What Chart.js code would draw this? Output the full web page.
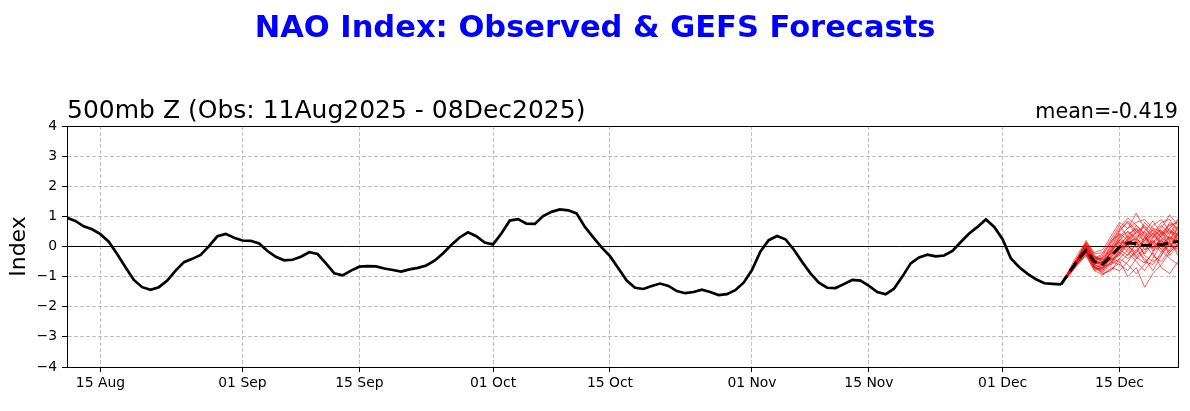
<!DOCTYPE html>
<html>
<head>
<meta charset="utf-8">
<script src="https://cdn.jsdelivr.net/npm/chart.js@4.4.1/dist/chart.umd.min.js"></script>
<style>
  html, body { margin: 0; padding: 0; background: #fff; }
  #wrap { width: 1190px; height: 411px; }
</style>
</head>
<body>
<div id="wrap"><canvas id="naoChart" width="1190" height="411"></canvas></div>
<script>
// x = days since 11 Aug 2025
var tickDays = [4, 21, 35, 51, 65, 82, 96, 112, 126];
var tickLabels = ["15 Aug", "01 Sep", "15 Sep", "01 Oct", "15 Oct", "01 Nov", "15 Nov", "01 Dec", "15 Dec"];
var lastDay = 133;      // 22 Dec
var fcstStart = 119;    // 08 Dec

// observed NAO, 11 Aug .. 08 Dec (daily)
var observed = [
  0.95, 0.85, 0.67, 0.57, 0.41, 0.16, -0.25, -0.69, -1.11, -1.35,
  -1.44, -1.35, -1.13, -0.80, -0.52, -0.41, -0.28, 0.01, 0.34, 0.42,
  0.29, 0.20, 0.19, 0.10, -0.15, -0.34, -0.46, -0.44, -0.34, -0.19,
  -0.25, -0.56, -0.89, -0.96, -0.80, -0.67, -0.65, -0.66, -0.73, -0.78,
  -0.83, -0.76, -0.71, -0.63, -0.47, -0.23, 0.05, 0.30, 0.47, 0.34,
  0.13, 0.07, 0.43, 0.86, 0.91, 0.76, 0.75, 1.01, 1.15, 1.23,
  1.20, 1.10, 0.65, 0.30, -0.03, -0.32, -0.72, -1.13, -1.37, -1.41,
  -1.31, -1.23, -1.31, -1.48, -1.55, -1.51, -1.43, -1.51, -1.61, -1.58,
  -1.45, -1.20, -0.78, -0.17, 0.21, 0.35, 0.24, -0.10, -0.51, -0.89,
  -1.20, -1.37, -1.38, -1.25, -1.11, -1.13, -1.31, -1.51, -1.59, -1.40,
  -1.00, -0.56, -0.36, -0.27, -0.33, -0.30, -0.15, 0.15, 0.43, 0.65,
  0.90, 0.65, 0.24, -0.40, -0.69, -0.91, -1.09, -1.22, -1.24, -1.26
];

// GEFS ensemble mean, 08 Dec .. 22 Dec
var ensMean = [-1.26, -0.85, -0.45, -0.12, -0.50, -0.58, -0.32, -0.02, 0.12, 0.10, 0.03, 0.05, 0.06, 0.12, 0.17];

// GEFS members, 08 Dec .. 22 Dec
var members = [
  [-1.26, -0.80, -0.35, 0.20, -0.30, -0.55, 0.10, 0.55, 0.80, 0.40, 0.20, 0.55, 0.30, 0.80, 0.60],
  [-1.26, -0.90, -0.55, -0.10, -0.70, -0.85, -0.60, -0.20, 0.30, 0.70, 0.40, -0.10, 0.20, 0.00, 0.40],
  [-1.26, -0.85, -0.40, 0.05, -0.40, -0.30, 0.20, 0.40, -0.10, -0.40, -0.20, 0.30, 0.60, 1.05, 0.70],
  [-1.26, -0.95, -0.60, -0.30, -0.80, -0.95, -0.70, -0.80, -0.50, -0.10, -0.40, -0.80, -0.30, 0.10, -0.20],
  [-1.26, -0.75, -0.25, 0.15, -0.20, -0.10, 0.35, 0.80, 0.60, 1.10, 0.60, 0.30, 0.70, 0.40, 0.90],
  [-1.26, -0.88, -0.50, -0.20, -0.60, -0.75, -0.40, -0.50, -1.00, -0.70, -1.35, -0.90, -0.60, -0.20, 0.10],
  [-1.26, -0.82, -0.42, -0.05, -0.45, -0.40, -0.10, 0.30, 0.50, 0.20, 0.80, 0.50, 0.00, 0.30, 0.20],
  [-1.26, -0.92, -0.58, -0.25, -0.75, -0.70, -0.55, -0.10, -0.30, 0.10, 0.50, 0.85, 0.40, 0.60, 0.30],
  [-1.26, -0.86, -0.45, -0.10, -0.55, -0.60, -0.30, 0.00, 0.40, 0.60, 0.10, -0.30, -0.50, -0.10, 0.50],
  [-1.26, -0.80, -0.38, 0.10, -0.35, -0.50, -0.20, 0.20, 0.00, -0.20, 0.30, 0.10, 0.50, 0.20, -0.30],
  [-1.26, -0.90, -0.52, -0.15, -0.65, -0.90, -0.80, -0.40, -0.60, -0.90, -0.60, -0.20, -0.70, -0.90, -0.50],
  [-1.26, -0.84, -0.44, -0.02, -0.50, -0.35, 0.00, 0.50, 0.85, 0.50, 0.30, 0.70, 0.90, 0.50, 0.20],
  [-1.26, -0.87, -0.48, -0.18, -0.60, -0.65, -0.45, -0.30, 0.10, 0.30, -0.10, 0.00, 0.20, 0.60, 0.90],
  [-1.26, -0.83, -0.40, 0.00, -0.40, -0.45, -0.25, 0.10, 0.20, 0.00, -0.50, -0.60, -0.20, 0.30, 0.00],
  [-1.26, -0.89, -0.52, -0.22, -0.70, -0.80, -0.50, -0.60, -0.80, -0.40, 0.00, 0.20, -0.10, -0.40, -0.60],
  [-1.26, -0.81, -0.36, 0.12, -0.25, -0.20, 0.25, 0.70, 0.30, 0.00, 0.20, 0.40, 0.10, -0.20, 0.10],
  [-1.26, -0.86, -0.46, -0.08, -0.55, -0.55, -0.15, 0.15, -0.20, -0.50, -0.80, -0.40, 0.10, 0.50, 0.40],
  [-1.26, -0.91, -0.56, -0.28, -0.80, -0.70, -0.35, -0.10, 0.10, 0.50, 0.70, 0.40, 0.80, 0.90, 0.50],
  [-1.26, -0.85, -0.43, -0.06, -0.45, -0.60, -0.40, -0.20, -0.40, -0.20, 0.20, 0.60, 0.50, 0.00, 0.30],
  [-1.26, -0.88, -0.49, -0.12, -0.50, -0.55, -0.20, 0.35, 0.60, 0.80, 0.90, 0.60, 0.30, 0.10, -0.10],
  [-1.26, -0.84, -0.42, -0.04, -0.48, -0.65, -0.60, -0.40, -0.10, 0.20, -0.30, -0.50, -0.30, 0.20, 0.60],
  [-1.26, -0.87, -0.47, -0.14, -0.58, -0.50, -0.10, 0.20, 0.50, 0.30, 0.50, 0.20, -0.10, 0.40, 0.70],
  [-1.26, -0.90, -0.54, -0.20, -0.68, -0.78, -0.52, -0.15, 0.05, -0.30, -0.10, 0.15, 0.45, 0.75, 0.35],
  [-1.26, -0.82, -0.41, 0.02, -0.42, -0.38, -0.05, 0.45, 0.20, 0.60, 0.35, -0.05, 0.25, -0.30, 0.05],
  [-1.26, -0.86, -0.44, -0.09, -0.62, -0.72, -0.28, 0.05, 0.35, 0.15, -0.25, 0.10, 0.35, 0.55, 0.25],
  [-1.26, -0.83, -0.39, 0.06, -0.38, -0.25, 0.15, 0.60, 0.95, 0.70, 0.45, 0.10, -0.20, 0.15, 0.45],
  [-1.26, -0.89, -0.51, -0.16, -0.66, -0.92, -0.75, -0.55, -0.25, 0.05, 0.30, -0.15, 0.05, 0.35, 0.10],
  [-1.26, -0.85, -0.46, -0.11, -0.52, -0.48, -0.35, -0.05, 0.25, 0.45, 0.65, 0.30, 0.55, 0.25, 0.65],
  [-1.26, -0.88, -0.50, -0.19, -0.72, -0.62, -0.15, 0.25, 0.05, -0.35, -0.55, -0.20, 0.40, 0.70, 0.80],
  [-1.26, -0.81, -0.37, 0.08, -0.33, -0.42, -0.45, -0.25, 0.15, 0.25, 0.05, 0.45, 0.15, -0.15, 0.20]
];

var meanText = "mean=-0.419";

function toPoints(arr, start) {
  return arr.map(function(v, i){ return {x: start + i, y: v}; });
}

Chart.defaults.font.family = "'DejaVu Sans', sans-serif";
Chart.defaults.color = "#000";

var datasets = [];
datasets.push({
  label: "mean", data: toPoints(ensMean, fcstStart),
  borderColor: "#000", borderWidth: 3, borderDash: [11, 5]
});
datasets.push({
  label: "obs", data: toPoints(observed, 0),
  borderColor: "#000", borderWidth: 2.7
});
members.forEach(function(m, k){
  datasets.push({
    label: "m" + (k + 1), data: toPoints(m, fcstStart),
    borderColor: "rgba(255,0,0,0.8)", borderWidth: 0.8
  });
});
datasets.push({
  label: "zero", data: [{x: 0, y: 0}, {x: lastDay, y: 0}],
  borderColor: "#000", borderWidth: 1
});

var rightTitle = {
  id: "rightTitle",
  afterDraw: function(chart){
    var ctx = chart.ctx, a = chart.chartArea;
    ctx.save();
    ctx.font = "20.7px 'DejaVu Sans'";
    ctx.fillStyle = "#000";
    ctx.textAlign = "right";
    ctx.textBaseline = "alphabetic";
    ctx.fillText(meanText, a.right, a.top - 8);
    ctx.restore();
  }
};

var chart = new Chart(document.getElementById("naoChart"), {
  type: "line",
  data: { datasets: datasets },
  options: {
    responsive: false,
    animation: false,
    elements: { point: { radius: 0 }, line: { tension: 0 } },
    layout: { padding: 0 },
    plugins: {
      legend: { display: false },
      tooltip: { enabled: false },
      title: {
        display: true,
        text: "NAO Index: Observed & GEFS Forecasts",
        color: "#0000ff",
        font: { size: 30.5, weight: "bold" },
        padding: { top: 11, bottom: 22 }
      },
      subtitle: {
        display: true,
        text: "500mb Z (Obs: 11Aug2025 - 08Dec2025)",
        align: "start",
        fullSize: false,
        color: "#000",
        font: { size: 25 },
        padding: { top: 26.4, bottom: 0 }
      }
    },
    scales: {
      x: {
        type: "linear", min: 0, max: lastDay,
        afterBuildTicks: function(s){ s.ticks = tickDays.map(function(d){ return {value: d}; }); },
        afterFit: function(s){ s.height = 44; },
        ticks: {
          autoSkip: false, maxRotation: 0, padding: 3, font: { size: 13.9 },
          callback: function(v){ return tickLabels[tickDays.indexOf(v)]; }
        },
        grid: { color: "#b0b0b0", lineWidth: 0.8, tickColor: "#000", tickLength: 5, tickWidth: 1 },
        border: { display: true, color: "#000", width: 1, dash: [4, 2] }
      },
      xT: {
        type: "linear", position: "top", min: 0, max: lastDay,
        afterFit: function(s){ s.height = 0; },
        ticks: { display: false },
        grid: { display: false },
        border: { display: true, color: "#000", width: 1 }
      },
      y: {
        min: -4, max: 4,
        afterFit: function(s){ s.width = 67; },
        ticks: {
          stepSize: 1, padding: 5, font: { size: 13.9 },
          callback: function(v){ return v < 0 ? "\u2212" + Math.abs(v) : String(v); }
        },
        title: { display: true, text: "Index", font: { size: 22 }, padding: { top: 6, bottom: 0 } },
        grid: { color: "#b0b0b0", lineWidth: 0.8, tickColor: "#000", tickLength: 5, tickWidth: 1 },
        border: { display: true, color: "#000", width: 1, dash: [4, 2] }
      },
      yR: {
        position: "right", min: -4, max: 4,
        afterFit: function(s){ s.width = 12; },
        ticks: { display: false },
        grid: { display: false },
        border: { display: true, color: "#000", width: 1 }
      }
    }
  },
  plugins: [rightTitle]
});
</script>
</body>
</html>
